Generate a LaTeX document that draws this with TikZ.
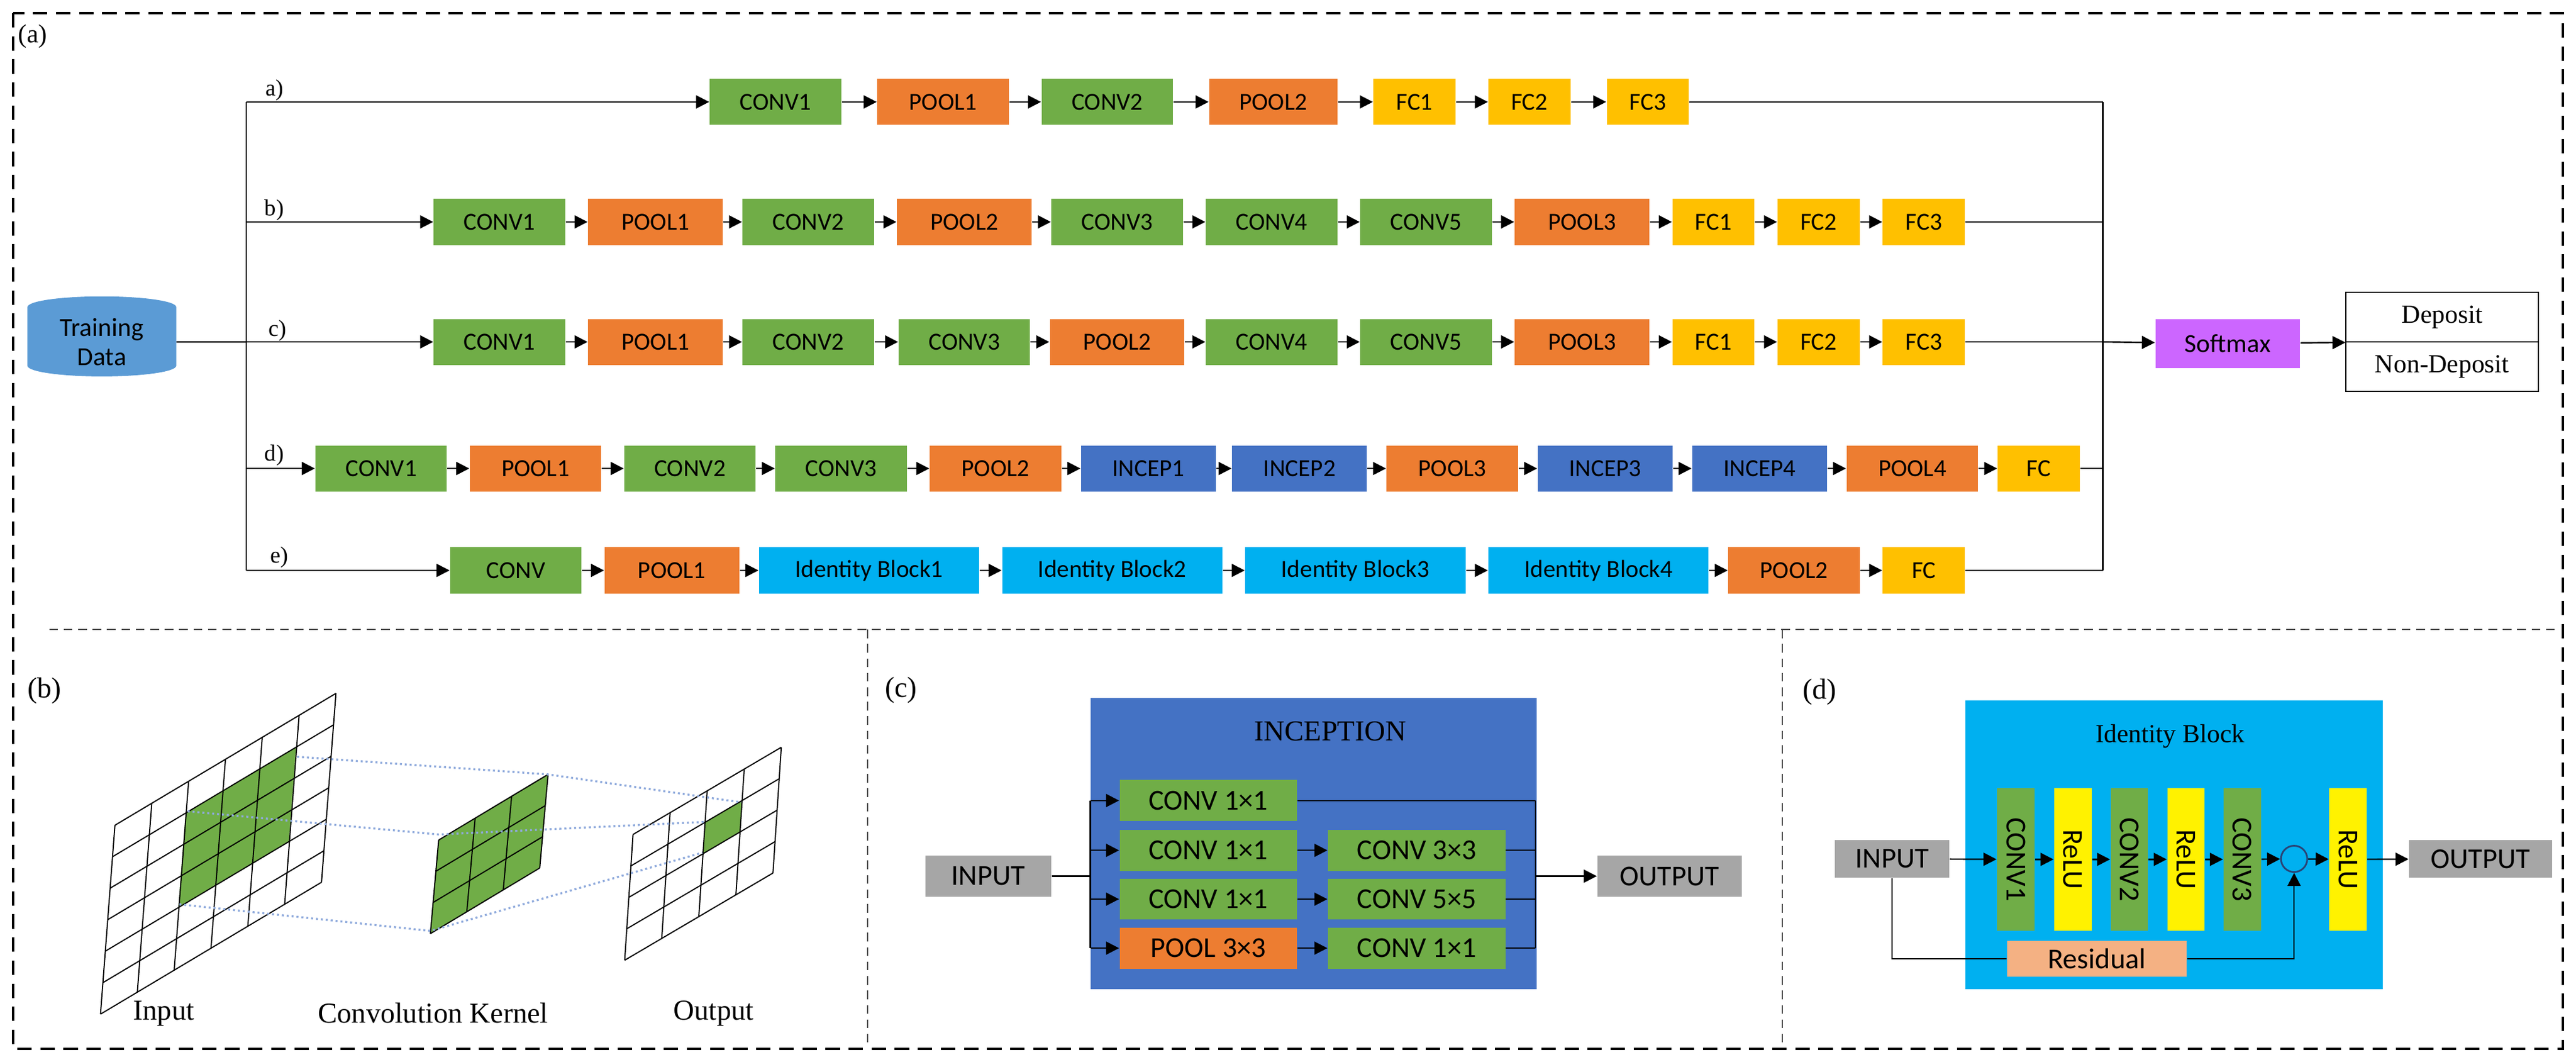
\documentclass[tikz,border=0pt]{standalone}
\usepackage{fontspec}
\setmainfont{Liberation Serif}
\newfontfamily\boxfont{Carlito}
\usetikzlibrary{arrows.meta,shapes.geometric}

\definecolor{cvgreen}{HTML}{70AD47}
\definecolor{plorange}{HTML}{ED7D31}
\definecolor{fcyellow}{HTML}{FFC000}
\definecolor{incblue}{HTML}{4472C4}
\definecolor{idcyan}{HTML}{00B0F0}
\definecolor{smpurple}{HTML}{CC66FF}
\definecolor{iogray}{HTML}{A6A6A6}
\definecolor{respeach}{HTML}{F4B183}
\definecolor{dbblue}{HTML}{5B9BD5}
\definecolor{linkblue}{HTML}{8FAADC}

\tikzset{
  blk/.style={rectangle, inner sep=0pt, minimum height=0.56cm, font=\boxfont\fontsize{8.5}{9}\selectfont},
  cv/.style={fill=cvgreen},
  pl/.style={fill=plorange},
  fc/.style={fill=fcyellow},
  inc/.style={fill=incblue},
  idb/.style={fill=idcyan},
  arr/.style={-{Triangle[length=4.5pt,width=4.5pt]}, line width=0.5pt},
  lnk/.style={line width=0.5pt},
  lab/.style={font=\fontsize{9}{10}\selectfont},
  sblk/.style={rectangle, inner sep=0pt, minimum height=0.5cm, font=\boxfont\fontsize{10}{11}\selectfont},
  vblk/.style={rectangle, inner sep=0pt, minimum width=0.456cm, minimum height=1.73cm, font=\boxfont\fontsize{10}{11}\selectfont},
  sep/.style={densely dashed, line width=0.4pt, black!70},
  kline/.style={densely dotted, linkblue, line width=0.7pt},
}

\begin{document}
\begin{tikzpicture}[x=0.02cm, y=-0.02cm]
\useasboundingbox (0,0) rectangle (1568,646);

% frames
\draw[dashed, line width=0.9pt, dash pattern=on 5pt off 3pt] (8,8) rectangle (1560,638);
\draw[sep] (30,383) -- (1555,383);
\draw[sep] (528,383) -- (528,636);
\draw[sep] (1085,383) -- (1085,636);
\node[lab] at (20,22) {(a)};

% (a) networks
\node[cylinder, shape border rotate=90, aspect=0.25, fill=dbblue, draw=dbblue,
      minimum width=1.8cm, minimum height=0.96cm, inner sep=0pt, align=center,
      font=\boxfont\fontsize{9}{10}\selectfont] (data) at (62,208) {Training\\Data};
\coordinate (split) at (150,208);
\coordinate (a0) at (150,62);
\coordinate (b0) at (150,135);
\coordinate (c0) at (150,208);
\coordinate (d0) at (150,285);
\coordinate (e0) at (150,347);
\draw[lnk] (data.east) -- (split);
\draw[lnk] (a0) -- (e0);

\foreach \x/\w/\t/\s [count=\i, remember=\i as \j (initially 0)] in
  {472/80/CONV1/cv, 574/80/POOL1/pl, 674/80/CONV2/cv, 775/78/POOL2/pl,
   861/50/FC1/fc, 931/50/FC2/fc, 1003/50/FC3/fc}{
  \node[blk,\s,minimum width=\w*0.02cm] (a\i) at (\x,62) {\t};
  \draw[arr] (a\j) -- (a\i);
}
\foreach \x/\w/\t/\s [count=\i, remember=\i as \j (initially 0)] in
  {304/80/CONV1/cv, 399/82/POOL1/pl, 492/80/CONV2/cv, 587/82/POOL2/pl,
   680/80/CONV3/cv, 774/80/CONV4/cv, 868/80/CONV5/cv, 963/82/POOL3/pl,
   1043/50/FC1/fc, 1107/50/FC2/fc, 1171/50/FC3/fc}{
  \node[blk,\s,minimum width=\w*0.02cm] (b\i) at (\x,135) {\t};
  \draw[arr] (b\j) -- (b\i);
}
\foreach \x/\w/\t/\s [count=\i, remember=\i as \j (initially 0)] in
  {304/80/CONV1/cv, 399/82/POOL1/pl, 492/80/CONV2/cv, 587/80/CONV3/cv,
   680/82/POOL2/pl, 774/80/CONV4/cv, 868/80/CONV5/cv, 963/82/POOL3/pl,
   1043/50/FC1/fc, 1107/50/FC2/fc, 1171/50/FC3/fc}{
  \node[blk,\s,minimum width=\w*0.02cm] (c\i) at (\x,208) {\t};
  \draw[arr] (c\j) -- (c\i);
}
\foreach \x/\w/\t/\s [count=\i, remember=\i as \j (initially 0)] in
  {232/80/CONV1/cv, 326/80/POOL1/pl, 420/80/CONV2/cv, 512/80/CONV3/cv,
   606/80/POOL2/pl, 699/82/INCEP1/inc, 791/82/INCEP2/inc, 884/80/POOL3/pl,
   977/82/INCEP3/inc, 1071/82/INCEP4/inc, 1164/80/POOL4/pl, 1241/50/FC/fc}{
  \node[blk,\s,minimum width=\w*0.02cm] (d\i) at (\x,285) {\t};
  \draw[arr] (d\j) -- (d\i);
}
\foreach \x/\w/\t/\s [count=\i, remember=\i as \j (initially 0)] in
  {314/80/CONV/cv, 409/82/POOL1/pl, 529/134/Identity Block1/idb,
   677/134/Identity Block2/idb, 825/134/Identity Block3/idb,
   973/134/Identity Block4/idb, 1092/80/POOL2/pl, 1171/50/FC/fc}{
  \node[blk,\s,minimum width=\w*0.02cm] (e\i) at (\x,347) {\t};
  \draw[arr] (e\j) -- (e\i);
}

\node[lab, font=\fontsize{8}{9}\selectfont] at (167,55) {a)};
\node[lab, font=\fontsize{8}{9}\selectfont] at (167,128) {b)};
\node[lab, font=\fontsize{8}{9}\selectfont] at (169,201) {c)};
\node[lab, font=\fontsize{8}{9}\selectfont] at (167,277) {d)};
\node[lab, font=\fontsize{8}{9}\selectfont] at (170,339) {e)};

\coordinate (ma) at (1280,62);
\coordinate (mb) at (1280,135);
\coordinate (mc) at (1280,208);
\coordinate (md) at (1280,285);
\coordinate (me) at (1280,347);
\draw[lnk] (a7) -- (ma);
\draw[lnk] (b11) -- (mb);
\draw[lnk] (c11) -- (mc);
\draw[lnk] (d12) -- (md);
\draw[lnk] (e8) -- (me);
\draw[lnk] (ma) -- (me);

\node[blk, fill=smpurple, minimum width=1.76cm, minimum height=0.6cm,
      font=\boxfont\fontsize{9}{10}\selectfont] (softmax) at (1356,209) {Softmax};
\node[draw, rectangle, minimum width=2.34cm, minimum height=0.6cm, inner sep=0pt,
      font=\fontsize{9}{10}\selectfont] (dep) at (1486.5,193) {Deposit};
\node[draw, rectangle, minimum width=2.34cm, minimum height=0.6cm, inner sep=0pt,
      font=\fontsize{9}{10}\selectfont] (ndep) at (1486.5,223) {Non-Deposit};
\draw[arr] (mc) -- (softmax);
\draw[arr] (softmax) -- (dep.south west);

% (b) convolution
\begin{scope}[shift={(0,381)}, xscale=0.338, yscale=0.17]
  \node[lab, font=\fontsize{10}{11}\selectfont] at (80,230) {(b)};
  % input grid
  \fill[cvgreen] (334.3,667.3) -- ++(199,-236) -- ++(-13,338) -- ++(-199,236) -- cycle;
  \foreach \i in {0,...,6}{
    \draw[line width=0.4pt] ({207+\i*66.33},{712-\i*78.67}) -- ++(-26,676);
    \draw[line width=0.4pt] ({207-\i*26/6},{712+\i*676/6}) -- ++(398,-472);
  }
  % kernel
  \fill[cvgreen] (790,765) -- ++(197,-235) -- ++(-15,335) -- ++(-197,235) -- cycle;
  \foreach \i in {0,...,3}{
    \draw[line width=0.4pt] ({790+\i*65.67},{765-\i*78.33}) -- ++(-15,335);
    \draw[line width=0.4pt] ({790-\i*5},{765+\i*111.67}) -- ++(197,-235);
  }
  % output grid
  \fill[cvgreen] (1269.75,701.5) -- ++(66.75,-78) -- ++(-3.75,112.5) -- ++(-66.75,78) -- cycle;
  \foreach \i in {0,...,4}{
    \draw[line width=0.4pt] ({1140+\i*66.75},{745-\i*78}) -- ++(-15,450);
    \draw[line width=0.4pt] ({1140-\i*3.75},{745+\i*112.5}) -- ++(267,-312);
  }
  \draw[kline] (535,467) -- (987,530) -- (1335,630);
  \draw[kline] (338,662) -- (790,745) -- (1270,700);
  \draw[kline] (323,995) -- (775,1090) -- (1265,810);
  \node[font=\fontsize{10}{11}\selectfont] at (295,1385) {Input};
  \node[font=\fontsize{10}{11}\selectfont] at (780,1385) {Convolution Kernel};
  \node[font=\fontsize{10}{11}\selectfont] at (1285,1385) {Output};
\end{scope}

% (c) inception
\node[lab, font=\fontsize{10}{11}\selectfont] at (548.5,420) {(c)};
\fill[incblue] (663.7,424.7) rectangle (935.3,601.7);
\node[font=\fontsize{10}{11}\selectfont] at (809.7,445) {INCEPTION};
\node[sblk, fill=iogray, minimum width=1.53cm] (cin) at (601.5,533) {INPUT};
\node[sblk, fill=iogray, minimum width=1.76cm] (cout) at (1016.3,533) {OUTPUT};
\node[sblk, cv, minimum width=2.16cm] (c1a) at (735.5,487) {CONV 1×1};
\node[sblk, cv, minimum width=2.16cm] (c2a) at (735.5,517.3) {CONV 1×1};
\node[sblk, cv, minimum width=2.16cm] (c3a) at (735.5,547) {CONV 1×1};
\node[sblk, pl, minimum width=2.16cm] (c4a) at (735.5,576.8) {POOL 3×3};
\node[sblk, cv, minimum width=2.16cm] (c2b) at (862.3,517.3) {CONV 3×3};
\node[sblk, cv, minimum width=2.16cm] (c3b) at (862.3,547) {CONV 5×5};
\node[sblk, cv, minimum width=2.16cm] (c4b) at (862.3,576.8) {CONV 1×1};
\coordinate (cs) at (663.7,533);
\coordinate (cs1) at (663.7,487);
\coordinate (cs4) at (663.7,576.8);
\coordinate (cm) at (934.6,533);
\coordinate (cm1) at (934.6,487);
\coordinate (cm2) at (934.6,517.3);
\coordinate (cm3) at (934.6,547);
\coordinate (cm4) at (934.6,576.8);
\draw[lnk] (cin) -- (cs);
\draw[lnk] (cs1) -- (cs4);
\foreach \r in {1,2,3,4}{
  \draw[arr] (cs|-c\r a) -- (c\r a);
}
\foreach \r in {2,3,4}{
  \draw[arr] (c\r a) -- (c\r b);
  \draw[lnk] (c\r b) -- (cm\r);
}
\draw[lnk] (c1a) -- (cm1);
\draw[lnk] (cm1) -- (cm4);
\draw[arr] (cm) -- (cout);

% (d) identity block
\node[lab, font=\fontsize{10}{11}\selectfont] at (1107.5,421) {(d)};
\fill[idcyan] (1196.2,426) rectangle (1450.3,601.7);
\node[font=\fontsize{9}{10}\selectfont] at (1320.9,448) {Identity Block};
\node[sblk, fill=iogray, minimum width=1.39cm, minimum height=0.46cm] (din) at (1151.7,522.5) {INPUT};
\node[sblk, fill=iogray, minimum width=1.74cm, minimum height=0.46cm] (dout) at (1509.9,522.5) {OUTPUT};
\node[vblk, cv] (dc1) at (1227,522.8) {\rotatebox{-90}{CONV1}};
\node[vblk, fill=yellow] (dr1) at (1261.7,522.8) {\rotatebox{-90}{ReLU}};
\node[vblk, cv] (dc2) at (1296.1,522.8) {\rotatebox{-90}{CONV2}};
\node[vblk, fill=yellow] (dr2) at (1330.6,522.8) {\rotatebox{-90}{ReLU}};
\node[vblk, cv] (dc3) at (1364.8,522.8) {\rotatebox{-90}{CONV3}};
\node[circle, draw=incblue!60!black, line width=0.6pt, minimum size=0.32cm, inner sep=0pt] (add) at (1396.4,522.5) {};
\node[vblk, fill=yellow] (dr3) at (1429.2,522.8) {\rotatebox{-90}{ReLU}};
\node[sblk, fill=respeach, minimum width=2.19cm, minimum height=0.44cm] (res) at (1276.4,583.3) {Residual};
\draw[arr] (din) -- (dc1);
\draw[arr] (dc1) -- (dr1);
\draw[arr] (dr1) -- (dc2);
\draw[arr] (dc2) -- (dr2);
\draw[arr] (dr2) -- (dc3);
\draw[arr] (dc3) -- (add);
\draw[arr] (add) -- (dr3);
\draw[arr] (dr3) -- (dout);
\draw[lnk] (din.south) |- (res.west);
\draw[arr] (res.east) -| (add.south);
\end{tikzpicture}
\end{document}
